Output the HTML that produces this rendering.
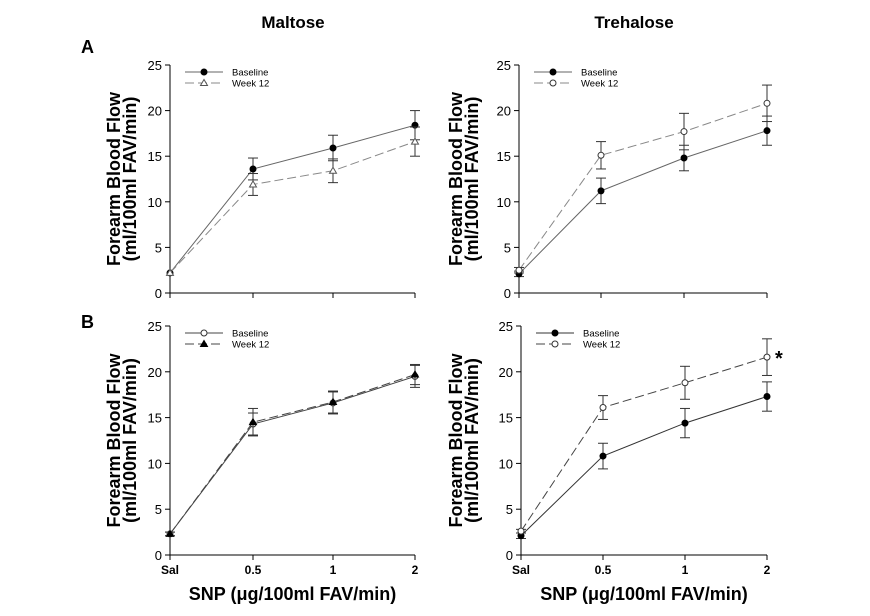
<!DOCTYPE html>
<html><head><meta charset="utf-8"><style>
html,body{margin:0;padding:0;background:#fff}
svg{display:block;font-family:"Liberation Sans",sans-serif}
</style></head><body>
<svg id="s" width="870" height="616" viewBox="0 0 870 616">
<text x="293" y="28" font-size="17" font-weight="bold" text-anchor="middle">Maltose</text>
<text x="634" y="28" font-size="17" font-weight="bold" text-anchor="middle">Trehalose</text>
<text x="81" y="53" font-size="18" font-weight="bold">A</text>
<text x="81" y="328" font-size="18" font-weight="bold">B</text>
</svg>
<script>
const categories=["Sal","0.5","1","2"];
const yTicks=[0,5,10,15,20,25];
const tlBase=[2.2,13.6,15.9,18.4], tlBaseErr=[0,1.2,1.4,1.6];
const tlWk=[2.2,11.9,13.4,16.6], tlWkErr=[0,1.2,1.3,1.6];
const trBase=[2.1,11.2,14.8,17.8], trBaseErr=[0.3,1.4,1.4,1.6];
const trWk=[2.5,15.1,17.7,20.8], trWkErr=[0.3,1.5,2.0,2.0];
const blBase=[2.3,14.3,16.6,19.5], blBaseErr=[0.2,1.2,1.2,1.2];
const blWk=[2.3,14.5,16.7,19.7], blWkErr=[0.2,1.5,1.2,1.1];
const brBase=[2.1,10.8,14.4,17.3], brBaseErr=[0.3,1.4,1.6,1.6];
const brWk=[2.6,16.1,18.8,21.6], brWkErr=[0.2,1.3,1.8,2.0];

const NS="http://www.w3.org/2000/svg";
const svg=document.getElementById('s');
function mk(tag,attrs,parent,text){const e=document.createElementNS(NS,tag);for(const k in attrs)e.setAttribute(k,attrs[k]);if(text!==undefined)e.textContent=text;(parent||svg).appendChild(e);return e;}

function panel(id,ax,y0,y25,xs,showX,titleX,series){
  const g=mk('g',{});
  
  
  const yS=v=>y0+(y25-y0)*v/25;
  const xS=i=>xs[i];
  mk('line',{x1:ax,y1:y25,x2:ax,y2:y0,stroke:'#000','stroke-width':1},g);
  mk('line',{x1:ax,y1:y0,x2:xs[3],y2:y0,stroke:'#000','stroke-width':1},g);
  yTicks.forEach(t=>{
    mk('line',{x1:ax-5,y1:yS(t),x2:ax,y2:yS(t),stroke:'#000'},g);
    const tx=mk('text',{x:ax-8,y:yS(t)+5,'font-size':13,'text-anchor':'end'},g,String(t));
    
    
  });
  categories.forEach((c,i)=>{
    mk('line',{x1:xS(i),y1:y0,x2:xS(i),y2:y0+5,stroke:'#000'},g);
    if(showX){const tx=mk('text',{x:xS(i),y:y0+19,'font-size':12,'font-weight':'bold','text-anchor':'middle'},g,c);
      
      }
  });
  const cy=(y0+y25)/2;
  const t1=mk('text',{x:0,y:0,'font-size':18,'font-weight':'bold','text-anchor':'middle',transform:`translate(${titleX[0]},${cy}) rotate(-90)`},g,'Forearm Blood Flow');
  
  
  const t2=mk('text',{x:0,y:0,'font-size':18,'font-weight':'bold','text-anchor':'middle',transform:`translate(${titleX[1]},${cy}) rotate(-90)`},g,'(ml/100ml FAV/min)');
  
  
  if(showX){const xt=mk('text',{x:(ax+xs[3])/2+animX(),y:y0+45,'font-size':18,'font-weight':'bold','text-anchor':'middle'},g,'SNP (μg/100ml FAV/min)');
    
    }
  series.forEach((s,si)=>{
    const pts=s.vals.map((v,i)=>xS(i)+','+yS(v)).join(' ');
    const pl=mk('polyline',{points:pts,fill:'none',stroke:s.color,'stroke-width':1,'stroke-dasharray':s.dash||'none'},g);
    
    
    s.vals.forEach((v,i)=>{
      const e=s.err[i];
      if(e>0){
        mk('line',{x1:xS(i),y1:yS(v-e),x2:xS(i),y2:yS(v+e),stroke:'#333'},g);
        mk('line',{x1:xS(i)-5,y1:yS(v-e),x2:xS(i)+5,y2:yS(v-e),stroke:'#333'},g);
        mk('line',{x1:xS(i)-5,y1:yS(v+e),x2:xS(i)+5,y2:yS(v+e),stroke:'#333'},g);
      }
      const m=marker(g,s.marker,xS(i),yS(v));
      
      
    });
    // legend
    const ly=y25+7+si*11, lx=ax+15;
    mk('line',{x1:lx,y1:ly,x2:lx+38,y2:ly,stroke:s.color,'stroke-dasharray':s.dash||'none'},g);
    marker(g,s.marker,lx+19,ly);
    const lt=mk('text',{x:lx+47,y:ly+3.5,'font-size':9.5},g,s.label);
    
    
  });
}
function animX(){return 0;}
function marker(g,type,x,y){
  if(type==='fc')return mk('circle',{cx:x,cy:y,r:3,fill:'#000',stroke:'#000'},g);
  if(type==='oc')return mk('circle',{cx:x,cy:y,r:3,fill:'#fff',stroke:'#333'},g);
  const p=`${x},${y-3.5} ${x-3.5},${y+2.5} ${x+3.5},${y+2.5}`;
  if(type==='ft')return mk('polygon',{points:p,fill:'#000',stroke:'#000'},g);
  return mk('polygon',{points:p,fill:'#fff',stroke:'#555'},g);
}
const LX=[170,253,333,415], RX=[519,601,684,767];
panel('maltose-a',170,293,65,LX,false,[120,136],[
 {name:'baseline',label:'Baseline',vals:tlBase,err:tlBaseErr,color:'#666',marker:'fc'},
 {name:'week12',label:'Week 12',vals:tlWk,err:tlWkErr,color:'#888',dash:'9,4',marker:'ot'}]);
panel('trehalose-a',519,293,65,RX,false,[462,478],[
 {name:'baseline',label:'Baseline',vals:trBase,err:trBaseErr,color:'#666',marker:'fc'},
 {name:'week12',label:'Week 12',vals:trWk,err:trWkErr,color:'#888',dash:'9,4',marker:'oc'}]);
panel('maltose-b',170,555,326,LX,true,[120,136],[
 {name:'baseline',label:'Baseline',vals:blBase,err:blBaseErr,color:'#444',marker:'oc'},
 {name:'week12',label:'Week 12',vals:blWk,err:blWkErr,color:'#444',dash:'9,4',marker:'ft'}]);
panel('trehalose-b',521,555,326,[521,603,685,767],true,[462,478],[
 {name:'baseline',label:'Baseline',vals:brBase,err:brBaseErr,color:'#333',marker:'fc'},
 {name:'week12',label:'Week 12',vals:brWk,err:brWkErr,color:'#444',dash:'9,4',marker:'oc'}]);
const star=mk('text',{x:775,y:365,'font-size':20,'font-weight':'bold'},svg,'*');


</script>
</body></html>
